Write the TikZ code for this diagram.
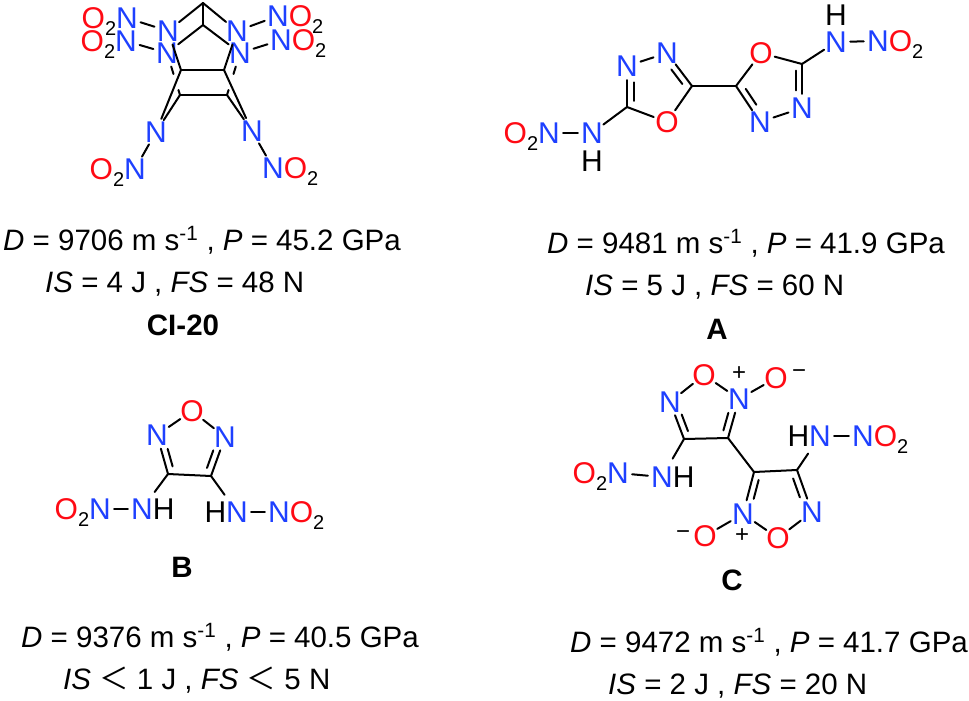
\documentclass[tikz,border=0pt]{standalone}
\usepackage{fontspec}
\setmainfont{Liberation Sans}
\newfontfamily\cjkfnt{Noto Sans CJK SC}
\usetikzlibrary{calc}
\definecolor{nblue}{HTML}{1E40FF}
\definecolor{ored}{HTML}{FF0A14}
\newcommand{\atomtxt}[1]{\makebox[0pt]{\raisebox{-0.358em}[0pt][0pt]{#1}}}
\newcommand{\oxy}{\textcolor{ored}{O}}
\newcommand{\nit}{\textcolor{nblue}{N}}
\newcommand{\subtwo}{\raisebox{-7pt}{\fontsize{20}{20}\selectfont 2}}
\newcommand{\Ol}{\oxy\subtwo}
\newcommand{\dblbond}[4]{%
  \draw[bond] (#1) -- (#2);
  \draw[bond] ($(#1)!#3!(#2)!6.5pt!90:(#2)$) -- ($(#1)!#4!(#2)!6.5pt!90:(#2)$);}
\newcommand{\valtxt}[2]{\textit{D} = #1 m s\textsuperscript{-1} , \textit{P} = #2 GPa}
\tikzset{
  atom/.style={circle,inner sep=0pt,minimum size=28pt,font=\fontsize{30}{30}\selectfont},
  bond/.style={line width=2pt,black,line cap=round},
  lab/.style={font=\fontsize{29.5}{32}\selectfont,anchor=base west,inner sep=0pt},
  cmpd/.style={font=\fontsize{29.5}{32}\selectfont\bfseries,anchor=base,inner sep=0pt},
  charge/.style={font=\fontsize{24}{24}\selectfont,inner sep=0pt},
}
\begin{document}
\begin{tikzpicture}[x=1pt,y=-1pt]
\useasboundingbox (0,0) rectangle (969,701);
% ---------- CI-20
\coordinate (ca) at (203,3);
\coordinate (cb) at (203,25);
\coordinate (cc) at (181,70);
\coordinate (cd) at (224,70);
\coordinate (ce) at (180,95);
\coordinate (cf) at (227,95);
\node[atom] (na) at (168,31) {\atomtxt{\nit}};
\node[atom] (nb) at (167,53) {\atomtxt{\nit}};
\node[atom] (nc) at (237,31) {\atomtxt{\nit}};
\node[atom] (nd) at (240,53) {\atomtxt{\nit}};
\node[atom] (ne) at (127,18) {\atomtxt{\llap{\Ol}\nit}};
\node[atom] (nf) at (126,41) {\atomtxt{\llap{\Ol}\nit}};
\node[atom] (ng) at (278,16) {\atomtxt{\nit\rlap{\Ol}}};
\node[atom] (nh) at (281,40) {\atomtxt{\nit\rlap{\Ol}}};
\node[atom] (ni) at (156,132) {\atomtxt{\nit}};
\node[atom] (nj) at (252,131) {\atomtxt{\nit}};
\node[atom] (nk) at (135,169) {\atomtxt{\llap{\Ol}\nit}};
\node[atom] (nl) at (273,168) {\atomtxt{\nit\rlap{\Ol}}};
\draw[bond] (ca) -- (na);
\draw[bond] (ca) -- (nc);
\draw[bond] (ca) -- (cb);
\draw[bond] (cb) -- (nb);
\draw[bond] (cb) -- (nd);
\draw[bond] (na) -- (ne);
\draw[bond] (nb) -- (nf);
\draw[bond] (nc) -- (ng);
\draw[bond] (nd) -- (nh);
\draw[bond] (na) -- (cc);
\draw[bond] (nc) -- (cd);
\draw[bond] (cc) -- (cd);
\draw[bond] (ce) -- (cf);
\draw[bond] (cc) -- (ni);
\draw[bond] (ce) -- (ni);
\draw[bond] (cd) -- (nj);
\draw[bond] (cf) -- (nj);
\draw[bond] (ni) -- (nk);
\draw[bond] (nj) -- (nl);
\draw[bond] (nb) -- ($(nb)!.5!(ce)$);
\draw[bond] ($(nb)!.88!(ce)$) -- (ce);
\draw[bond] (nd) -- ($(nd)!.5!(cf)$);
\draw[bond] ($(nd)!.88!(cf)$) -- (cf);
\node[lab] (t1) at (3,250) {\valtxt{9706}{45.2}};
\node[lab] (t2) at (45,292) {\textit{IS} = 4 J , \textit{FS} = 48 N};
\node[cmpd] (t3) at (183,335) {CI-20};
% ---------- A
\node[atom] (a1) at (627,66) {\atomtxt{\nit}};
\node[atom] (a2) at (667,53) {\atomtxt{\nit}};
\coordinate (a3) at (692,86);
\node[atom] (a4) at (667,122) {\atomtxt{\oxy}};
\coordinate (a5) at (627,107);
\coordinate (a6) at (736,86);
\node[atom] (a7) at (761,53) {\atomtxt{\oxy}};
\coordinate (a8) at (802,64);
\node[atom] (a9) at (802,108) {\atomtxt{\nit}};
\node[atom] (a10) at (760,122) {\atomtxt{\nit}};
\node[atom] (a11) at (836,42) {\atomtxt{\nit}};
\node[atom] (a12) at (836,15) {\atomtxt{H}};
\node[atom] (a13) at (878,41) {\atomtxt{\nit\rlap{\Ol}}};
\node[atom] (a14) at (592,133) {\atomtxt{\nit}};
\node[atom] (a15) at (592,161) {\atomtxt{H}};
\node[atom] (a16) at (549,133) {\atomtxt{\llap{\Ol}\nit}};
\dblbond{a1}{a5}{.4}{.85}
\dblbond{a3}{a2}{.18}{.62}
\dblbond{a6}{a10}{.18}{.62}
\dblbond{a9}{a8}{.4}{.85}
\draw[bond] (a1) -- (a2);
\draw[bond] (a3) -- (a4);
\draw[bond] (a4) -- (a5);
\draw[bond] (a3) -- (a6);
\draw[bond] (a6) -- (a7);
\draw[bond] (a7) -- (a8);
\draw[bond] (a9) -- (a10);
\draw[bond] (a8) -- (a11);
\draw[bond] (a11) -- (a13);
\draw[bond] (a5) -- (a14);
\draw[bond] (a14) -- (a16);
\node[lab] (t4) at (547,253) {\valtxt{9481}{41.9}};
\node[lab] (t5) at (585,295) {\textit{IS} = 5 J , \textit{FS} = 60 N};
\node[cmpd] (t6) at (717,339) {A};
% ---------- B
\node[atom] (b1) at (192,411) {\atomtxt{\oxy}};
\node[atom] (b2) at (157,435) {\atomtxt{\nit}};
\node[atom] (b3) at (225,437) {\atomtxt{\nit}};
\coordinate (b4) at (168,474);
\coordinate (b5) at (211,476);
\node[atom] (b6) at (142,509) {\atomtxt{\nit\rlap{H}}};
\node[atom] (b7) at (100,509) {\atomtxt{\llap{\Ol}\nit}};
\node[atom] (b8) at (237,512) {\atomtxt{\llap{H}\nit}};
\node[atom] (b9) at (279,512) {\atomtxt{\nit\rlap{\Ol}}};
\dblbond{b2}{b4}{.4}{.85}
\dblbond{b5}{b3}{.15}{.6}
\draw[bond] (b1) -- (b2);
\draw[bond] (b1) -- (b3);
\draw[bond] (b4) -- (b5);
\draw[bond,shorten >=7pt] (b4) -- (b6);
\draw[bond,shorten >=7pt] (b5) -- (b8);
\draw[bond] (b6) -- (b7);
\draw[bond] (b8) -- (b9);
\node[cmpd] (t7) at (182,577) {B};
\node[lab] (t8) at (21,647) {\valtxt{9376}{40.5}};
\node[lab] (t9) at (63,689) {\textit{IS} {\cjkfnt ＜} 1 J , \textit{FS} {\cjkfnt ＜} 5 N};
% ---------- C
\node[atom] (c1) at (704,375) {\atomtxt{\oxy}};
\node[atom] (c2) at (739,399) {\atomtxt{\nit}};
\node[atom] (c3) at (776,378) {\atomtxt{\oxy}};
\node[atom] (c4) at (670,402) {\atomtxt{\nit}};
\coordinate (c5) at (684,439);
\coordinate (c6) at (728,438);
\coordinate (c7) at (754,472);
\coordinate (c8) at (797,470);
\node[atom] (c9) at (812,512) {\atomtxt{\nit}};
\node[atom] (c10) at (778,538) {\atomtxt{\oxy}};
\node[atom] (c11) at (743,514) {\atomtxt{\nit}};
\node[atom] (c12) at (705,536) {\atomtxt{\oxy}};
\node[atom] (c13) at (662,477) {\atomtxt{\nit\rlap{H}}};
\node[atom] (c14) at (618,473) {\atomtxt{\llap{\Ol}\nit}};
\node[atom] (c15) at (820,436) {\atomtxt{\llap{H}\nit}};
\node[atom] (c16) at (863,436) {\atomtxt{\nit\rlap{\Ol}}};
\node[charge] (q1) at (739,374) {+};
\node[charge] (q2) at (799,374) {−};
\node[charge] (q3) at (683,535) {−};
\node[charge] (q4) at (742,536) {+};
\dblbond{c4}{c5}{.4}{.85}
\dblbond{c6}{c2}{.15}{.6}
\dblbond{c7}{c11}{.15}{.6}
\dblbond{c9}{c8}{.4}{.85}
\draw[bond] (c1) -- (c4);
\draw[bond] (c1) -- (c2);
\draw[bond] (c2) -- (c3);
\draw[bond] (c5) -- (c6);
\draw[bond] (c6) -- (c7);
\draw[bond] (c7) -- (c8);
\draw[bond] (c9) -- (c10);
\draw[bond] (c10) -- (c11);
\draw[bond] (c11) -- (c12);
\draw[bond,shorten >=7pt] (c5) -- (c13);
\draw[bond] (c13) -- (c14);
\draw[bond,shorten >=7pt] (c8) -- (c15);
\draw[bond] (c15) -- (c16);
\node[cmpd] (t10) at (732,590) {C};
\node[lab] (t11) at (570,652) {\valtxt{9472}{41.7}};
\node[lab] (t12) at (608,694) {\textit{IS} = 2 J , \textit{FS} = 20 N};
\end{tikzpicture}
\end{document}
